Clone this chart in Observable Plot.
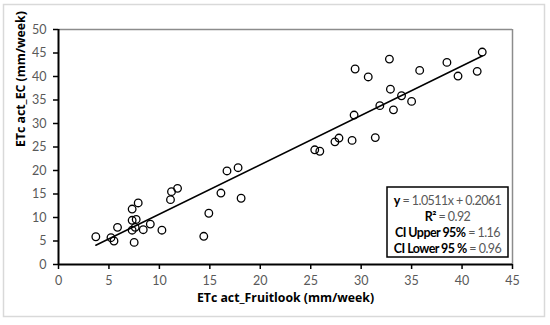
<!DOCTYPE html>
<html><head><meta charset="utf-8">
<script src="https://cdn.jsdelivr.net/npm/d3@7"></script>
<script src="https://cdn.jsdelivr.net/npm/@observablehq/plot@0.6"></script>
<style>body{margin:0;background:#fff;} #chart{width:550px;height:325px;}</style>
</head><body><div id="chart"></div>
<script>
const fruitlook = [3.7,5.2,5.5,5.85,7.3,7.9,7.3,7.7,7.3,7.6,7.5,8.4,9.1,10.25,11.1,11.2,11.8,14.4,14.9,16.1,16.7,17.8,18.1,
  25.4,25.9,27.4,27.8,29.1,29.3,29.4,30.7,31.4,31.85,32.8,32.9,33.2,34.0,35.0,35.8,38.5,39.6,41.5,42.0];
const ecValues = [5.9,5.7,5.0,7.9,11.8,13.1,9.4,9.6,7.3,7.9,4.7,7.4,8.6,7.3,13.8,15.5,16.2,6.0,10.9,15.2,19.9,20.6,14.1,
  24.4,24.1,26.1,26.9,26.4,31.8,41.6,39.9,27.0,33.8,43.7,37.3,32.9,35.9,34.7,41.3,43.0,40.1,41.1,45.2];
const xTicks = [0,5,10,15,20,25,30,35,40,45];
const yTicks = [0,5,10,15,20,25,30,35,40,45,50];
const xLabel = "ETc act_Fruitlook (mm/week)";
const yLabel = "ETc act_EC (mm/week)";
const slope = 1.0511, intercept = 0.2061;
const statBold = ["y", "R²", "CI Upper 95%", "CI Lower 95 %"];
const statValue = [" = 1.0511x + 0.2061", " = 0.92", " = 1.16", " = 0.96"];

const W = 550, H = 325, mL = 58, mR = 38, mT = 29, mB = 61;
const FONT = "Lato, 'Open Sans', sans-serif";
const LABEL_FONT = "'Open Sans', Lato, sans-serif";
const points = fruitlook.map((x, i) => ({x, y: ecValues[i]}));
const xr = d3.extent(fruitlook);
const fit = xr.map(x => ({x, y: slope * x + intercept}));

const plot = Plot.plot({
  width: W, height: H,
  marginLeft: mL, marginRight: mR, marginTop: mT, marginBottom: mB,
  style: {fontFamily: FONT, fontSize: "12.5px", background: "#fff", overflow: "visible"},
  x: {domain: [0, 45]},
  y: {domain: [0, 50]},
  marks: [
    Plot.ruleY([50], {stroke: "#8c8c8c", strokeWidth: 1.5}),
    Plot.ruleX([45], {stroke: "#8c8c8c", strokeWidth: 1.5}),
    Plot.axisX(xTicks, {tickSize: 5, tickPadding: 7, label: null, stroke: "#000", strokeWidth: 1.5, fill: "#595959", tickFormat: d => d}),
    Plot.axisY(yTicks, {tickSize: 5, tickPadding: 7, label: null, stroke: "#000", strokeWidth: 1.5, fill: "#595959", tickFormat: d => d}),
    Plot.ruleX([0], {stroke: "#000", strokeWidth: 2}),
    Plot.ruleY([0], {stroke: "#000", strokeWidth: 2}),
    Plot.line(fit, {x: "x", y: "y", stroke: "#000", strokeWidth: 1.5}),
    Plot.dot(points, {x: "x", y: "y", r: 3.8, stroke: "#000", strokeWidth: 1.3, fill: "none"}),
    Plot.text([xLabel], {text: d => d, frameAnchor: "bottom", dy: 37, fontWeight: "bold", fontSize: 12.3, fontFamily: LABEL_FONT, fill: "#000"}),
    Plot.text([yLabel], {text: d => d, frameAnchor: "left", dx: -37, rotate: -90, fontWeight: "bold", fontSize: 12.3, fontFamily: LABEL_FONT, fill: "#000"})
  ]
});
document.getElementById("chart").appendChild(plot);

const svg = d3.select(plot);
svg.insert("rect", ":first-child")
  .attr("x", 3.5).attr("y", 4.5).attr("width", 541).attr("height", 312)
  .attr("fill", "#fff").attr("stroke", "#d9d9d9").attr("stroke-width", 1.5);

const g = svg.append("g").attr("font-family", FONT).attr("font-size", 12.5).attr("letter-spacing", -0.55);
const boxRight = W - mR - 4, boxBottom = H - mB - 7, boxH = 70, boxW = 121;
const boxTop = boxBottom - boxH;
const cx = boxRight - boxW / 2;
g.append("rect").attr("fill", "#fff").attr("stroke", "#000").attr("stroke-width", 1.5)
  .attr("x", boxRight - boxW).attr("y", boxTop).attr("width", boxW).attr("height", boxH);
statBold.forEach((b, i) => {
  const t = g.append("text").attr("text-anchor", "middle").attr("dominant-baseline", "central")
    .attr("x", cx).attr("y", boxTop + 12.5 + i * 16.2);
  t.append("tspan").attr("font-weight", "bold").attr("fill", "#000").text(b);
  t.append("tspan").attr("fill", "#595959").text(statValue[i]);
});
</script>
</body></html>
